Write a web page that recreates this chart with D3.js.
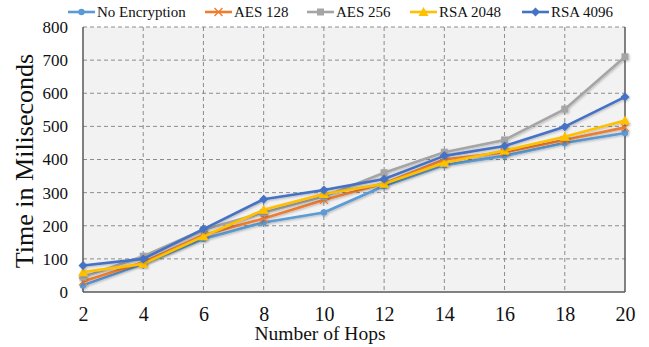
<!DOCTYPE html>
<html>
<head>
<meta charset="utf-8">
<script src="https://cdn.jsdelivr.net/npm/d3@7"></script>
<style>
  html, body { margin: 0; padding: 0; background: #fff; }
  svg { display: block; }
  text { font-family: "Liberation Serif", "Times New Roman", serif; fill: #111; }
</style>
</head>
<body>
<svg id="chart" width="649" height="347" font-family="Liberation Serif, serif"></svg>
<script>
// Hop counts along the x axis
const hops = [2, 4, 6, 8, 10, 12, 14, 16, 18, 20];
// Measured time (ms) for each configuration
const noEncryption = [20, 85, 160, 210, 240, 320, 383, 411, 450, 480];
const aes128      = [32, 90, 172, 222, 278, 328, 400, 422, 459, 497];
const aes256      = [45, 108, 188, 240, 288, 360, 422, 459, 552, 710];
const rsa2048     = [60, 85, 168, 248, 296, 327, 390, 427, 469, 518];
const rsa4096     = [80, 100, 190, 280, 308, 341, 411, 441, 499, 589];
const seriesNames = ["No Encryption", "AES 128", "AES 256", "RSA 2048", "RSA 4096"];
const yTicks = [0, 100, 200, 300, 400, 500, 600, 700, 800];

const seriesValues = [noEncryption, aes128, aes256, rsa2048, rsa4096];
const colors = ["#5B9BD5", "#ED7D31", "#A5A5A5", "#FFC000", "#4472C4"];
const markers = ["circle", "cross", "square", "triangle", "diamond"];
const serif = "Liberation Serif, Times New Roman, serif";

const svg = d3.select("#chart");
const m = { left: 83, right: 625, top: 27, bottom: 292 };

const x = d3.scaleLinear().domain([2, 20]).range([m.left, m.right]);
const y = d3.scaleLinear().domain([0, 800]).range([m.bottom, m.top]);

// plot background
svg.append("rect")
  .attr("x", m.left).attr("y", m.top)
  .attr("width", m.right - m.left).attr("height", m.bottom - m.top)
  .attr("fill", "#F2F2F2");

// dashed grid
const grid = svg.append("g").attr("stroke", "#8c8c8c").attr("stroke-width", 1)
  .attr("stroke-dasharray", "4,3");
grid.selectAll("line.h").data(yTicks.filter(d => d > 0)).join("line")
  .attr("x1", m.left).attr("x2", m.right)
  .attr("y1", d => y(d)).attr("y2", d => y(d));
grid.selectAll("line.v").data(hops.slice(1, -1)).join("line")
  .attr("y1", m.top).attr("y2", m.bottom)
  .attr("x1", d => x(d)).attr("x2", d => x(d));

// axes frame
const frame = svg.append("g").attr("stroke", "#595959").attr("stroke-width", 1.5).attr("fill", "none");
frame.append("line").attr("x1", m.left).attr("x2", m.left).attr("y1", m.top).attr("y2", m.bottom);
frame.append("line").attr("x1", m.right).attr("x2", m.right).attr("y1", m.top).attr("y2", m.bottom);
frame.append("line").attr("x1", m.left).attr("x2", m.right).attr("y1", m.bottom).attr("y2", m.bottom);

// y axis labels
const yAxis = d3.axisLeft(y).tickValues(yTicks).tickSize(0).tickPadding(15);
const gy = svg.append("g").attr("transform", `translate(${m.left},0)`).call(yAxis)
  .attr("font-family", serif).attr("font-size", 17);
gy.select(".domain").remove();
gy.selectAll("text").attr("font-family", serif).attr("font-size", 17).attr("fill", "#111");

// x axis labels
const xAxis = d3.axisBottom(x).tickValues(hops).tickSize(0).tickPadding(15);
const gx = svg.append("g").attr("transform", `translate(0,${m.bottom})`).call(xAxis)
  .attr("font-family", serif).attr("font-size", 20);
gx.select(".domain").remove();
gx.selectAll("text").attr("font-family", serif).attr("font-size", 20).attr("fill", "#111");

// axis titles
svg.append("text").attr("x", 320).attr("y", 340).attr("text-anchor", "middle")
  .attr("font-family", serif).attr("font-size", 19.5).text("Number of Hops");
svg.append("text").attr("transform", "translate(33,161) rotate(-90)").attr("text-anchor", "middle")
  .attr("font-family", serif).attr("font-size", 26).text("Time in Miliseconds");

// marker drawing
function drawMarker(g, type, color) {
  if (type === "circle") {
    g.append("circle").attr("r", 3.2).attr("fill", color);
  } else if (type === "cross") {
    g.append("path").attr("d", "M-4,-4L4,4M-4,4L4,-4").attr("stroke", color).attr("stroke-width", 1.3).attr("fill", "none");
  } else if (type === "square") {
    g.append("rect").attr("x", -3.5).attr("y", -3.5).attr("width", 7).attr("height", 7).attr("fill", color);
  } else if (type === "triangle") {
    g.append("path").attr("d", "M0,-5L5,4L-5,4Z").attr("fill", color);
  } else if (type === "diamond") {
    g.append("path").attr("d", "M0,-4.5L4.5,0L0,4.5L-4.5,0Z").attr("fill", color);
  }
}

// soft shadow under lines
const defs = svg.append("defs");
const f = defs.append("filter").attr("id", "soft").attr("x", "-10%").attr("y", "-10%").attr("width", "120%").attr("height", "120%");
f.append("feGaussianBlur").attr("in", "SourceAlpha").attr("stdDeviation", 1.2).attr("result", "b");
f.append("feOffset").attr("in", "b").attr("dx", 0.5).attr("dy", 1).attr("result", "o");
f.append("feComponentTransfer").attr("in", "o").attr("result", "s")
  .append("feFuncA").attr("type", "linear").attr("slope", 0.25);
const fm = f.append("feMerge");
fm.append("feMergeNode").attr("in", "s");
fm.append("feMergeNode").attr("in", "SourceGraphic");

const line = d3.line().x((d, i) => x(hops[i])).y(d => y(d));

seriesValues.forEach((vals, si) => {
  const g = svg.append("g").attr("filter", "url(#soft)");
  g.append("path").datum(vals).attr("d", line)
    .attr("fill", "none").attr("stroke", colors[si]).attr("stroke-width", 2.6)
    .attr("stroke-linejoin", "round").attr("stroke-linecap", "round");
  vals.forEach((v, i) => {
    const mg = g.append("g").attr("transform", `translate(${x(hops[i])},${y(v)})`);
    drawMarker(mg, markers[si], colors[si]);
  });
});

// legend
const legendX = [68, 205, 307, 410, 522];
const legend = svg.append("g");
seriesNames.forEach((name, si) => {
  const lg = legend.append("g").attr("transform", `translate(${legendX[si]},12)`);
  lg.append("line").attr("x1", 0).attr("x2", 27).attr("y1", 0).attr("y2", 0)
    .attr("stroke", colors[si]).attr("stroke-width", 2.6);
  const mg = lg.append("g").attr("transform", "translate(13.5,0)");
  drawMarker(mg, markers[si], colors[si]);
  lg.append("text").attr("x", 29).attr("y", 5)
    .attr("font-family", serif).attr("font-size", 15).attr("fill", "#111").text(name);
});
</script>
</body>
</html>
